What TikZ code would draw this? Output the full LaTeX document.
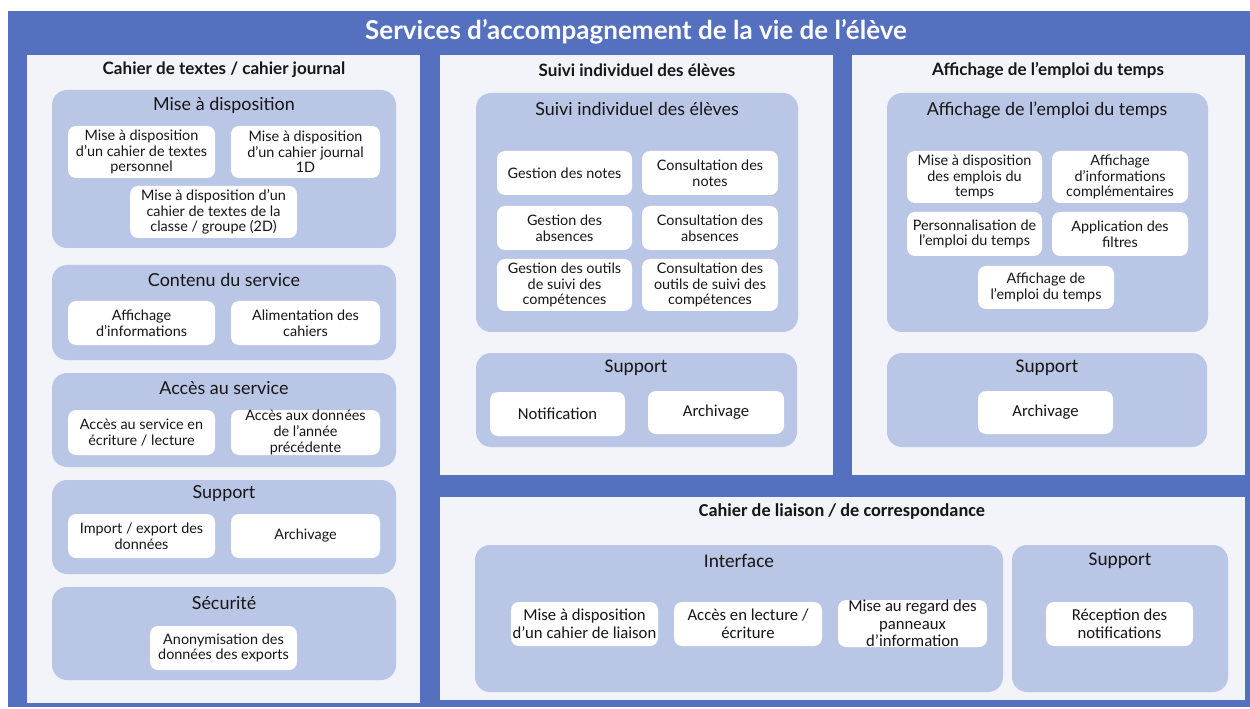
\documentclass[tikz,border=0pt]{standalone}
\usepackage{fontspec}
\setmainfont{Lato}
\newfontfamily\narrowfont{Carlito}

\definecolor{frameblue}{RGB}{84,112,190}
\definecolor{panelfill}{RGB}{242,244,250}
\definecolor{groupfill}{RGB}{186,198,229}
\definecolor{inktext}{RGB}{22,22,22}

\tikzset{
  panel/.style={fill=panelfill, inner sep=0pt},
  group/.style={fill=groupfill, rounded corners=0.3cm, inner sep=0pt},
  item/.style={fill=white, rounded corners=0.16cm, align=center, inner sep=0pt,
    text=inktext, font=\fontsize{8.2}{8.9}\selectfont},
  narrowitem/.style={item, font=\narrowfont\fontsize{9.5}{10}\selectfont},
  grouptitle/.style={text=inktext, font=\fontsize{10.2}{12}\selectfont},
  narrowtitle/.style={text=inktext, font=\narrowfont\fontsize{11}{13}\selectfont},
  paneltitle/.style={text=inktext, font=\bfseries\fontsize{9.7}{11}\selectfont},
}

% box from pixel corners: style, name, x1, y1, x2, y2, text
\newcommand{\block}[7]{%
  \node[#1, minimum width={(#5-#3)*0.02cm}, minimum height={(#6-#4)*0.02cm}]
    (#2) at ({(#3+#5)/2},{(#4+#6)/2}) {#7};}

\begin{document}
\begin{tikzpicture}[x=0.02cm, y=-0.02cm]
  \useasboundingbox (0,0) rectangle (1250,709);
  \fill[frameblue] (8,11) rectangle (1250,707);
  \node[text=white, font=\bfseries\fontsize{14.8}{17}\selectfont] (title) at (636,32)
    {Services d’accompagnement de la vie de l’élève};

  % cahier de textes
  \block{panel}{pCahier}{27}{55}{420}{703}{}
  \node[paneltitle] (tCahier) at (224,70) {Cahier de textes / cahier journal};
  \block{group}{gMise}{52}{90}{396}{248}{}
  \node[grouptitle] (tMise) at (224,105) {Mise à disposition};
  \block{item}{iPerso}{68}{126}{215}{178}{Mise à disposition\\d’un cahier de textes\\personnel}
  \block{item}{iJournal}{231}{126}{380}{178}{Mise à disposition\\d’un cahier journal\\1D}
  \block{item}{iClasse}{130}{186}{297}{238}{Mise à disposition d’un\\cahier de textes de la\\classe / groupe (2D)}
  \block{group}{gContenu}{52}{265}{396}{360}{}
  \node[grouptitle] (tContenu) at (224,280) {Contenu du service};
  \block{item}{iAffInfo}{68}{301}{215}{345}{Affichage\\d’informations}
  \block{item}{iAlim}{231}{301}{380}{345}{Alimentation des\\cahiers}
  \block{group}{gAcces}{52}{373}{396}{467}{}
  \node[grouptitle] (tAcces) at (224,388) {Accès au service};
  \block{item}{iEcriture}{68}{410}{215}{455}{Accès au service en\\écriture / lecture}
  \block{item}{iAnnee}{231}{410}{380}{455}{Accès aux données\\de l’année\\précédente}
  \block{group}{gSupportA}{52}{480}{396}{574}{}
  \node[grouptitle] (tSupportA) at (224,494) {Support};
  \block{item}{iImport}{68}{514}{215}{558}{Import / export des\\données}
  \block{item}{iArchA}{231}{514}{380}{558}{Archivage}
  \block{group}{gSecu}{52}{587}{396}{680}{}
  \node[grouptitle] (tSecu) at (224,603) {Sécurité};
  \block{item}{iAnonym}{150}{626}{297}{670}{Anonymisation des\\données des exports}

  % suivi individuel
  \block{panel}{pSuivi}{440}{55}{833}{475}{}
  \node[paneltitle] (tSuivi) at (637,70) {Suivi individuel des élèves};
  \block{group}{gSuivi}{476}{93}{798}{332}{}
  \node[grouptitle] (tSuiviG) at (637,109) {Suivi individuel des élèves};
  \block{item}{iGNotes}{497}{151}{632}{195}{Gestion des notes}
  \block{item}{iCNotes}{642}{151}{778}{195}{Consultation des\\notes}
  \block{item}{iGAbs}{497}{206}{632}{250}{Gestion des\\absences}
  \block{item}{iCAbs}{642}{206}{778}{250}{Consultation des\\absences}
  \block{item}{iGComp}{497}{259}{632}{311}{Gestion des outils\\de suivi des\\compétences}
  \block{item}{iCComp}{642}{259}{778}{311}{Consultation des\\outils de suivi des\\compétences}
  \block{group}{gSupportB}{476}{353}{797}{447}{}
  \node[narrowtitle] (tSupportB) at (636,368) {Support};
  \block{narrowitem}{iNotif}{490}{392}{625}{436}{Notification}
  \block{narrowitem}{iArchB}{648}{391}{784}{434}{Archivage}

  % emploi du temps
  \block{panel}{pEmploi}{852}{55}{1245}{475}{}
  \node[paneltitle] (tEmploi) at (1048,70) {Affichage de l’emploi du temps};
  \block{group}{gEmploi}{887}{93}{1208}{332}{}
  \node[grouptitle] (tEmploiG) at (1047,110) {Affichage de l’emploi du temps};
  \block{item}{iEmplois}{907}{151}{1042}{203}{Mise à disposition\\des emplois du\\temps}
  \block{item}{iCompl}{1052}{151}{1188}{203}{Affichage\\d’informations\\complémentaires}
  \block{item}{iPerso2}{907}{212}{1042}{256}{Personnalisation de\\l’emploi du temps}
  \block{item}{iFiltres}{1052}{212}{1188}{256}{Application des\\filtres}
  \block{item}{iAffEdt}{978}{266}{1114}{309}{Affichage de\\l’emploi du temps}
  \block{group}{gSupportC}{887}{353}{1207}{447}{}
  \node[narrowtitle] (tSupportC) at (1047,368) {Support};
  \block{narrowitem}{iArchC}{978}{391}{1113}{434}{Archivage}

  % cahier de liaison
  \block{panel}{pLiaison}{440}{497}{1245}{700}{}
  \node[paneltitle, font=\narrowfont\bfseries\fontsize{10.4}{12}\selectfont] (tLiaison) at (842,512) {Cahier de liaison / de correspondance};
  \block{group}{gInterface}{475}{545}{1003}{692}{}
  \node[narrowtitle] (tInterface) at (739,561) {Interface};
  \block{narrowitem}{iCahierL}{511}{602}{658}{646}{Mise à disposition\\d’un cahier de liaison}
  \block{narrowitem}{iLecture}{674}{602}{822}{646}{Accès en lecture /\\écriture}
  \block{narrowitem}{iPanneaux}{838}{600}{987}{647}{Mise au regard des\\panneaux\\d’information}
  \block{group}{gSupportD}{1012}{545}{1228}{692}{}
  \node[narrowtitle] (tSupportD) at (1120,561) {Support};
  \block{narrowitem}{iRecept}{1046}{602}{1193}{646}{Réception des\\notifications}
\end{tikzpicture}
\end{document}
